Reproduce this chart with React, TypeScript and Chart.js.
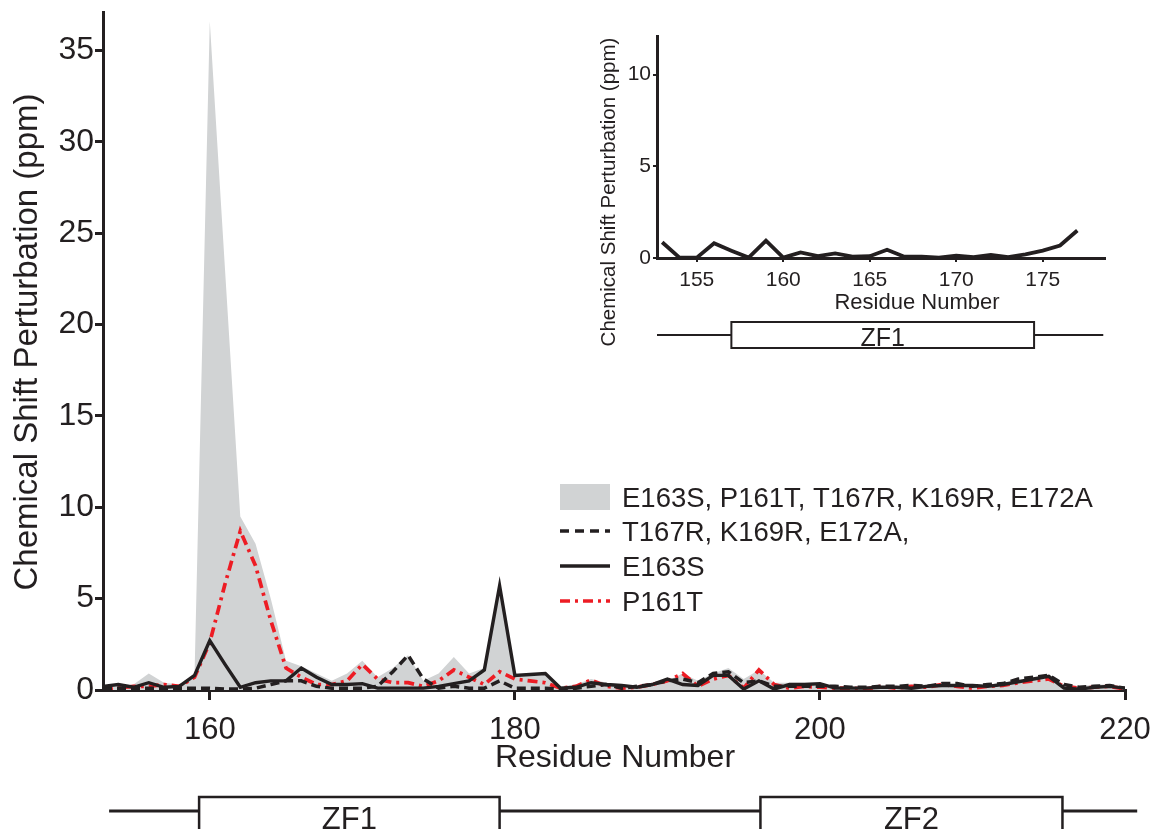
import React, { useEffect, useRef } from 'react';
import { Chart, registerables } from 'chart.js';

Chart.register(...registerables);

// ---------- Main chart data ----------
const residues = [
  153, 154, 155, 156, 157, 158, 159, 160, 161, 162, 163, 164, 165, 166, 167, 168, 169,
  170, 171, 172, 173, 174, 175, 176, 177, 178, 179, 180, 181, 182, 183, 184, 185, 186,
  187, 188, 189, 190, 191, 192, 193, 194, 195, 196, 197, 198, 199, 200, 201, 202, 203,
  204, 205, 206, 207, 208, 209, 210, 211, 212, 213, 214, 215, 216, 217, 218, 219, 220,
];

// E163S, P161T, T167R, K169R, E172A (grey filled area)
const allMutantsCSP = [
  0.2, 0.2, 0.3, 0.9, 0.4, 0.3, 0.8, 36.6, 23.0, 9.5, 8.0, 5.0, 1.6, 1.3, 0.9, 0.5, 0.9,
  1.6, 0.7, 1.2, 1.9, 0.5, 0.9, 1.8, 0.9, 1.2, 5.7, 0.8, 0.85, 0.9, 0.2, 0.3, 0.6, 0.4,
  0.3, 0.2, 0.3, 0.5, 0.9, 0.5, 0.9, 1.2, 0.6, 1.1, 0.4, 0.4, 0.4, 0.4, 0.2, 0.2, 0.2,
  0.2, 0.2, 0.3, 0.3, 0.3, 0.3, 0.3, 0.3, 0.4, 0.5, 0.6, 0.8, 0.3, 0.2, 0.3, 0.3, 0.1,
];

// T167R, K169R, E172A (dashed black)
const tripleMutantCSP = [
  0.1, 0.1, 0.1, 0.1, 0.1, 0.1, 0.1, 0.1, 0.05, 0.05, 0.1, 0.3, 0.5, 0.5, 0.2, 0.1, 0.1,
  0.1, 0.2, 1.0, 1.9, 0.6, 0.1, 0.2, 0.1, 0.1, 0.5, 0.1, 0.1, 0.1, 0.05, 0.1, 0.2, 0.3,
  0.1, 0.2, 0.3, 0.5, 0.6, 0.4, 0.9, 1.0, 0.4, 0.5, 0.2, 0.2, 0.2, 0.2, 0.2, 0.15, 0.15,
  0.2, 0.2, 0.25, 0.2, 0.35, 0.35, 0.2, 0.3, 0.35, 0.6, 0.7, 0.8, 0.3, 0.15, 0.2, 0.25, 0.1,
];

// E163S (solid black)
const e163sCSP = [
  0.2, 0.3, 0.15, 0.4, 0.15, 0.2, 0.8, 2.7, 1.4, 0.15, 0.4, 0.5, 0.5, 1.2, 0.7, 0.3, 0.3,
  0.35, 0.1, 0.1, 0.1, 0.1, 0.2, 0.35, 0.5, 1.1, 5.7, 0.8, 0.85, 0.9, 0.1, 0.15, 0.4, 0.3,
  0.25, 0.15, 0.3, 0.6, 0.3, 0.25, 0.8, 0.8, 0.05, 0.5, 0.05, 0.3, 0.3, 0.35, 0.1, 0.1, 0.1,
  0.15, 0.15, 0.1, 0.2, 0.25, 0.25, 0.25, 0.2, 0.3, 0.45, 0.6, 0.75, 0.1, 0.05, 0.15, 0.2, 0.1,
];

// P161T (red dash-dot)
const p161tCSP = [
  0.0, 0.1, 0.2, 0.2, 0.3, 0.2, 0.7, 2.6, 5.8, 8.7, 6.8, 3.8, 1.2, 0.7, 0.3, 0.3, 0.5,
  1.4, 0.6, 0.4, 0.4, 0.2, 0.5, 1.1, 0.7, 0.3, 1.0, 0.6, 0.5, 0.4, 0.1, 0.2, 0.55, 0.2,
  0.1, 0.15, 0.3, 0.5, 0.9, 0.2, 0.6, 0.8, 0.1, 1.1, 0.3, 0.1, 0.2, 0.15, 0.1, 0.1, 0.05,
  0.2, 0.1, 0.2, 0.15, 0.3, 0.2, 0.1, 0.2, 0.25, 0.4, 0.5, 0.6, 0.2, 0.1, 0.15, 0.2, 0.05,
];

const seriesLabels = [
  'E163S, P161T, T167R, K169R, E172A',
  'T167R, K169R, E172A,',
  'E163S',
  'P161T',
];

const mainXTicks = [160, 180, 200, 220];
const mainYTicks = [0, 5, 10, 15, 20, 25, 30, 35];
const mainXTitle = 'Residue Number';
const mainYTitle = 'Chemical Shift Perturbation (ppm)';

const mainDomains = [
  { label: 'ZF1', start: 159.3, end: 179.0 },
  { label: 'ZF2', start: 196.1, end: 215.9 },
];
const mainDomainSpan = [153.4, 220.8];

// ---------- Inset data ----------
const insetResidues = [
  153, 154, 155, 156, 157, 158, 159, 160, 161, 162, 163, 164, 165, 166, 167, 168, 169,
  170, 171, 172, 173, 174, 175, 176, 177,
];
const insetCSP = [
  0.86, 0.02, 0.02, 0.8, 0.4, 0.02, 0.95, 0.02, 0.3, 0.1, 0.25, 0.08, 0.1, 0.45, 0.07,
  0.07, 0.02, 0.13, 0.05, 0.17, 0.05, 0.2, 0.4, 0.68, 1.5,
];
const insetXTicks = [155, 160, 165, 170, 175];
const insetYTicks = [0, 5, 10];
const insetDomains = [{ label: 'ZF1', start: 157.0, end: 174.5 }];
const insetDomainSpan = [152.7, 178.5];

// ---------- Styles ----------
const BLACK = '#231f20';
const GRAY = '#d1d3d4';
const RED = '#ed1c24';
const FONT = '"Liberation Sans", Arial, Helvetica, sans-serif';

const W = 1155;
const H = 829;
const INSET_LEFT = 580;
const INSET_TOP = 20;
const INSET_W = 560;
const INSET_H = 345;

function pts(xs: number[], ys: number[]) {
  return xs.map((x, i) => ({ x, y: ys[i] }));
}

function noPad(s: any) {
  s.paddingTop = 0;
  s.paddingBottom = 0;
  s.paddingLeft = 0;
  s.paddingRight = 0;
}

const mainDecor = {
  id: 'mainDecor',
  afterDraw(chart: any) {
    const ctx: CanvasRenderingContext2D = chart.ctx;
    const xs = chart.scales.x;
    ctx.save();
    ctx.fillStyle = BLACK;
    ctx.strokeStyle = BLACK;

    // axis titles
    ctx.font = `32px ${FONT}`;
    ctx.textAlign = 'center';
    ctx.textBaseline = 'alphabetic';
    ctx.fillText(mainXTitle, 615, 767);
    ctx.font = `33px ${FONT}`;
    ctx.save();
    ctx.translate(37, 342);
    ctx.rotate(-Math.PI / 2);
    ctx.fillText(mainYTitle, 0, 0);
    ctx.restore();

    // domain diagram
    const ly = 811;
    ctx.lineWidth = 3;
    ctx.beginPath();
    ctx.moveTo(xs.getPixelForValue(mainDomainSpan[0]), ly);
    ctx.lineTo(xs.getPixelForValue(mainDomainSpan[1]), ly);
    ctx.stroke();
    mainDomains.forEach((d) => {
      const x0 = xs.getPixelForValue(d.start);
      const x1 = xs.getPixelForValue(d.end);
      ctx.fillStyle = '#ffffff';
      ctx.fillRect(x0, 797, x1 - x0, 60);
      ctx.lineWidth = 2.5;
      ctx.strokeRect(x0, 797, x1 - x0, 60);
      ctx.fillStyle = BLACK;
      ctx.font = `31px ${FONT}`;
      ctx.textAlign = 'center';
      ctx.fillText(d.label, (x0 + x1) / 2, 829);
    });

    // legend
    const lx0 = 560;
    const lx1 = 610;
    const tx = 622;
    const baselines = [507, 541, 576, 611];
    ctx.font = `27.5px ${FONT}`;
    ctx.textAlign = 'left';
    ctx.fillStyle = GRAY;
    ctx.fillRect(lx0, 484, lx1 - lx0, 26);
    ctx.lineWidth = 3.5;
    ctx.strokeStyle = BLACK;
    ctx.setLineDash([9, 6]);
    ctx.beginPath();
    ctx.moveTo(lx0, baselines[1] - 10);
    ctx.lineTo(lx1, baselines[1] - 10);
    ctx.stroke();
    ctx.setLineDash([]);
    ctx.beginPath();
    ctx.moveTo(lx0, baselines[2] - 10);
    ctx.lineTo(lx1, baselines[2] - 10);
    ctx.stroke();
    ctx.strokeStyle = RED;
    ctx.setLineDash([10, 5, 3, 5]);
    ctx.beginPath();
    ctx.moveTo(lx0, baselines[3] - 10);
    ctx.lineTo(lx1, baselines[3] - 10);
    ctx.stroke();
    ctx.setLineDash([]);
    ctx.fillStyle = BLACK;
    seriesLabels.forEach((t, i) => ctx.fillText(t, tx, baselines[i]));
    ctx.restore();
  },
};

const insetDecor = {
  id: 'insetDecor',
  afterDraw(chart: any) {
    const ctx: CanvasRenderingContext2D = chart.ctx;
    const xs = chart.scales.x;
    const ox = INSET_LEFT;
    const oy = INSET_TOP;
    ctx.save();
    ctx.fillStyle = BLACK;
    ctx.strokeStyle = BLACK;
    ctx.font = `22px ${FONT}`;
    ctx.textAlign = 'center';
    ctx.textBaseline = 'alphabetic';
    ctx.fillText(mainXTitle, 917 - ox, 309 - oy);
    ctx.font = `20.5px ${FONT}`;
    ctx.save();
    ctx.translate(615 - ox, 192 - oy);
    ctx.rotate(-Math.PI / 2);
    ctx.fillText(mainYTitle, 0, 0);
    ctx.restore();

    const ly = 335 - oy;
    ctx.lineWidth = 2;
    ctx.beginPath();
    ctx.moveTo(xs.getPixelForValue(insetDomainSpan[0]), ly);
    ctx.lineTo(xs.getPixelForValue(insetDomainSpan[1]), ly);
    ctx.stroke();
    insetDomains.forEach((d) => {
      const x0 = xs.getPixelForValue(d.start);
      const x1 = xs.getPixelForValue(d.end);
      ctx.fillStyle = '#ffffff';
      ctx.fillRect(x0, 322 - oy, x1 - x0, 26);
      ctx.lineWidth = 2;
      ctx.strokeRect(x0, 322 - oy, x1 - x0, 26);
      ctx.fillStyle = BLACK;
      ctx.font = `25px ${FONT}`;
      ctx.fillText(d.label, (x0 + x1) / 2, 346 - oy);
    });
    ctx.restore();
  },
};

export default function App() {
  const mainRef = useRef<HTMLCanvasElement>(null);
  const insetRef = useRef<HTMLCanvasElement>(null);

  useEffect(() => {
    if (!mainRef.current || !insetRef.current) return;

    const main = new Chart(mainRef.current, {
      type: 'line',
      data: {
        datasets: [
          {
            label: seriesLabels[0],
            data: pts(residues, allMutantsCSP),
            fill: 'origin',
            backgroundColor: GRAY,
            borderColor: 'rgba(0,0,0,0)',
            borderWidth: 0,
            pointRadius: 0,
            tension: 0,
            order: 4,
          },
          {
            label: seriesLabels[1],
            data: pts(residues, tripleMutantCSP),
            fill: false,
            borderColor: BLACK,
            borderWidth: 3.5,
            borderDash: [9, 5],
            pointRadius: 0,
            tension: 0,
            order: 2,
          },
          {
            label: seriesLabels[2],
            data: pts(residues, e163sCSP),
            fill: false,
            borderColor: BLACK,
            borderWidth: 3.4,
            pointRadius: 0,
            tension: 0,
            order: 1,
          },
          {
            label: seriesLabels[3],
            data: pts(residues, p161tCSP),
            fill: false,
            borderColor: RED,
            borderWidth: 3.7,
            borderDash: [10, 5, 3, 5],
            pointRadius: 0,
            tension: 0,
            order: 3,
          },
        ],
      } as any,
      options: {
        animation: false,
        responsive: false,
        maintainAspectRatio: false,
        layout: { padding: { left: 0, top: 12, right: 30, bottom: 0 } },
        plugins: { legend: { display: false }, tooltip: { enabled: false } },
        scales: {
          x: {
            type: 'linear',
            min: 153,
            max: 220,
            afterFit: (s: any) => {
              s.height = 139;
              noPad(s);
            },
            afterBuildTicks: (s: any) => {
              s.ticks = mainXTicks.map((v) => ({ value: v }));
            },
            grid: {
              drawOnChartArea: false,
              drawTicks: true,
              tickLength: 10,
              color: BLACK,
              lineWidth: 3,
            },
            border: { display: true, color: BLACK, width: 3 },
            ticks: {
              font: { family: FONT, size: 31 },
              color: BLACK,
              padding: 12,
              maxRotation: 0,
              autoSkip: false,
            },
          },
          y: {
            type: 'linear',
            min: 0,
            max: 37.1,
            afterFit: (s: any) => {
              s.width = 103;
              noPad(s);
            },
            afterBuildTicks: (s: any) => {
              s.ticks = mainYTicks.map((v) => ({ value: v }));
            },
            grid: {
              drawOnChartArea: false,
              drawTicks: true,
              tickLength: 8,
              color: BLACK,
              lineWidth: 3,
            },
            border: { display: true, color: BLACK, width: 3 },
            ticks: {
              font: { family: FONT, size: 32 },
              color: BLACK,
              padding: 1,
              autoSkip: false,
            },
          },
        },
      } as any,
      plugins: [mainDecor],
    });

    const inset = new Chart(insetRef.current, {
      type: 'line',
      data: {
        datasets: [
          {
            label: 'inset',
            data: pts(insetResidues, insetCSP),
            fill: false,
            borderColor: BLACK,
            borderWidth: 3.8,
            pointRadius: 0,
            tension: 0,
          },
        ],
      } as any,
      options: {
        animation: false,
        responsive: false,
        maintainAspectRatio: false,
        layout: { padding: { left: 0, top: 16, right: 35, bottom: 0 } },
        plugins: { legend: { display: false }, tooltip: { enabled: false } },
        scales: {
          x: {
            type: 'linear',
            min: 152.7,
            max: 178.6,
            afterFit: (s: any) => {
              s.height = INSET_H - 238;
              noPad(s);
            },
            afterBuildTicks: (s: any) => {
              s.ticks = insetXTicks.map((v) => ({ value: v }));
            },
            grid: {
              drawOnChartArea: false,
              drawTicks: true,
              tickLength: 4,
              color: BLACK,
              lineWidth: 2,
            },
            border: { display: true, color: BLACK, width: 3 },
            ticks: {
              font: { family: FONT, size: 21 },
              color: BLACK,
              padding: 6,
              maxRotation: 0,
              autoSkip: false,
            },
          },
          y: {
            type: 'linear',
            min: 0,
            max: 12.1,
            afterFit: (s: any) => {
              s.width = 77;
              noPad(s);
            },
            afterBuildTicks: (s: any) => {
              s.ticks = insetYTicks.map((v) => ({ value: v }));
            },
            grid: {
              drawOnChartArea: false,
              drawTicks: true,
              tickLength: 4,
              color: BLACK,
              lineWidth: 2,
            },
            border: { display: true, color: BLACK, width: 3 },
            ticks: {
              font: { family: FONT, size: 21 },
              color: BLACK,
              padding: 2,
              autoSkip: false,
            },
          },
        },
      } as any,
      plugins: [insetDecor],
    });

    return () => {
      main.destroy();
      inset.destroy();
    };
  }, []);

  return (
    <div
      style={{
        position: 'fixed',
        left: 0,
        top: 0,
        width: W,
        height: H,
        background: '#ffffff',
        overflow: 'hidden',
      }}
    >
      <canvas
        ref={mainRef}
        width={W}
        height={H}
        style={{ position: 'absolute', left: 0, top: 0, width: W, height: H }}
      />
      <canvas
        ref={insetRef}
        width={INSET_W}
        height={INSET_H}
        style={{
          position: 'absolute',
          left: INSET_LEFT,
          top: INSET_TOP,
          width: INSET_W,
          height: INSET_H,
        }}
      />
    </div>
  );
}
